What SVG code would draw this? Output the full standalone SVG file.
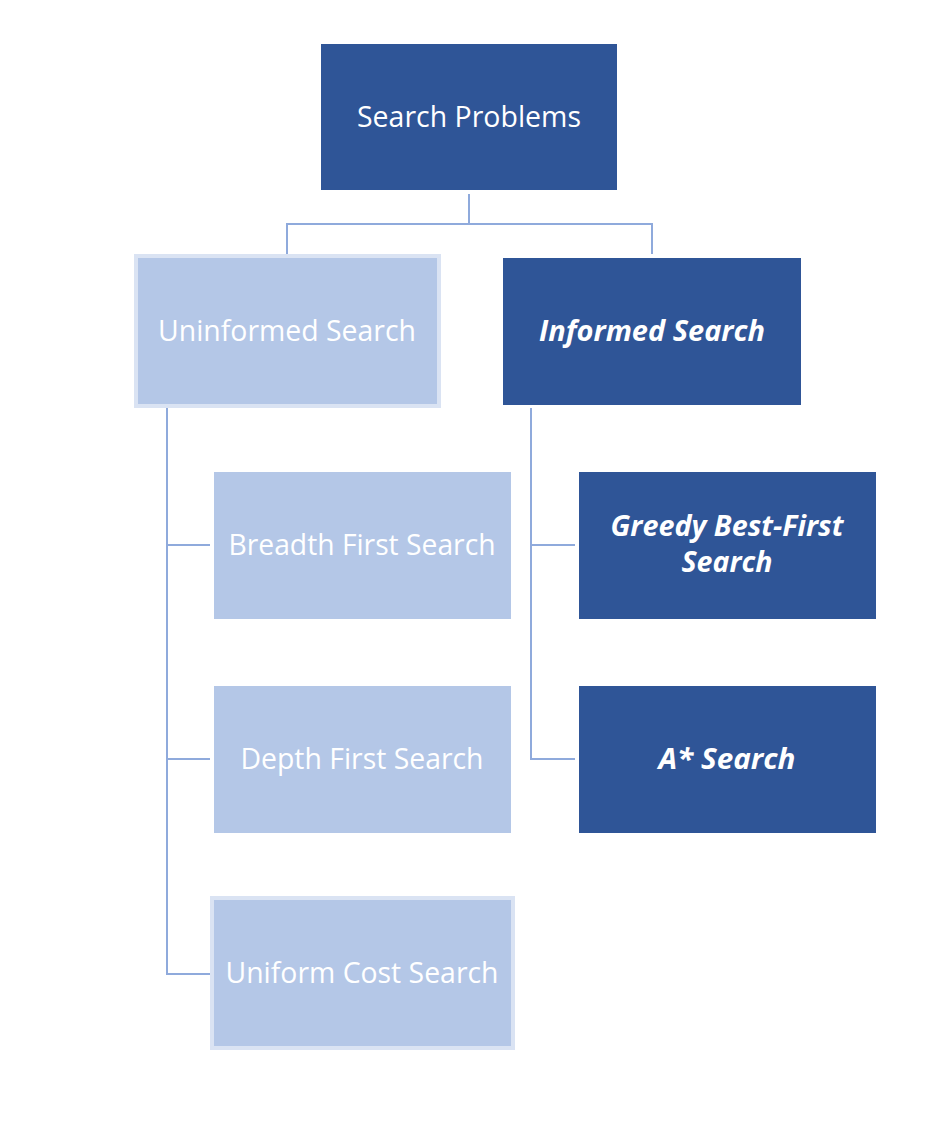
<svg xmlns="http://www.w3.org/2000/svg" width="950" height="1124" viewBox="0 0 950 1124">
<style>
.dark{fill:#2F5597}
.light{fill:#B4C7E7}
.lb{fill:#B4C7E7;stroke:#DAE3F3;stroke-width:4}
.t{font-family:"Open Sans","Noto Sans",sans-serif;font-size:29px;fill:#FFFFFF;text-anchor:middle}
.bi{font-weight:bold;font-style:italic}
.c{fill:none;stroke:#8FAADC;stroke-width:2}
</style>
<rect width="950" height="1124" fill="#FFFFFF"/>
<g id="connectors">
<path class="c" d="M469,194 V224 M287,224 H652 M287,223 V254 M652,223 V254"/>
<path class="c" d="M167,408 V974 H210 M167,545 H210 M167,759 H210"/>
<path class="c" d="M531,408 V759 H575 M531,545 H575"/>
</g>
<g id="search-problems">
<rect class="dark" x="321" y="44" width="296" height="146"/>
<text class="t" x="469" y="127" textLength="224" lengthAdjust="spacingAndGlyphs">Search Problems</text>
</g>
<g id="uninformed">
<rect class="lb" x="136" y="256" width="303" height="150"/>
<text class="t" x="287" y="341" textLength="258" lengthAdjust="spacingAndGlyphs">Uninformed Search</text>
</g>
<g id="informed">
<rect class="dark" x="503" y="258" width="298" height="147"/>
<text class="t bi" x="652" y="341" textLength="226" lengthAdjust="spacingAndGlyphs">Informed Search</text>
</g>
<g id="bfs">
<rect class="light" x="214" y="472" width="297" height="147"/>
<text class="t" x="362" y="555" textLength="267" lengthAdjust="spacingAndGlyphs">Breadth First Search</text>
</g>
<g id="dfs">
<rect class="light" x="214" y="686" width="297" height="147"/>
<text class="t" x="362" y="769" textLength="243" lengthAdjust="spacingAndGlyphs">Depth First Search</text>
</g>
<g id="ucs">
<rect class="lb" x="212" y="898" width="301" height="150"/>
<text class="t" x="362" y="983" textLength="273" lengthAdjust="spacingAndGlyphs">Uniform Cost Search</text>
</g>
<g id="greedy">
<rect class="dark" x="579" y="472" width="297" height="147"/>
<text class="t bi" x="727" y="536" textLength="233" lengthAdjust="spacingAndGlyphs">Greedy Best-First</text>
<text class="t bi" x="727" y="572" textLength="91" lengthAdjust="spacingAndGlyphs">Search</text>
</g>
<g id="astar">
<rect class="dark" x="579" y="686" width="297" height="147"/>
<text class="t bi" x="727" y="769" textLength="137" lengthAdjust="spacingAndGlyphs">A* Search</text>
</g>
</svg>
